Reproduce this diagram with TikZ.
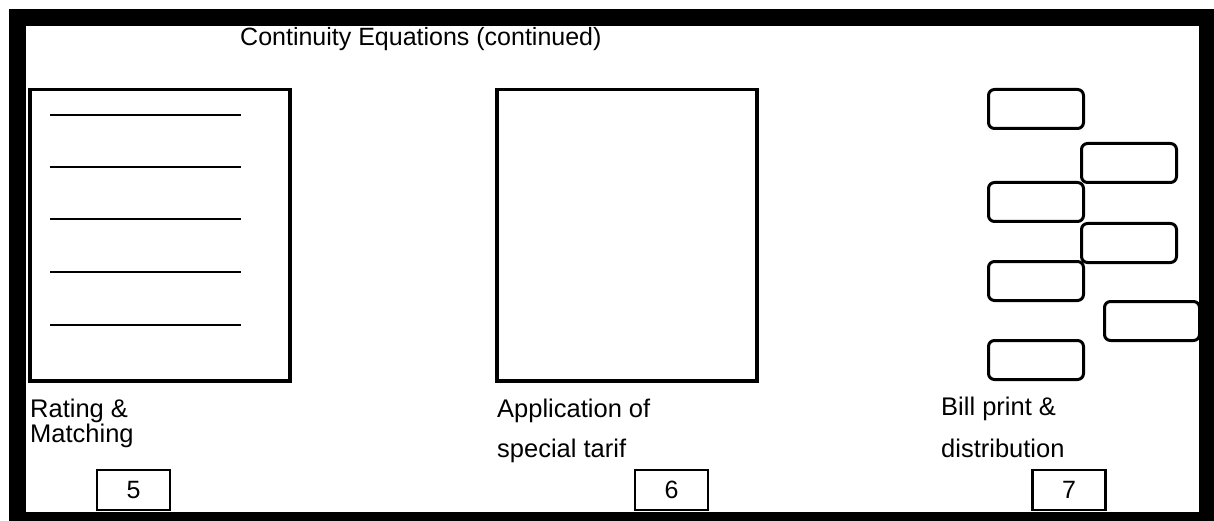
\documentclass[tikz,border=0pt]{standalone}
\usepackage{fontspec}
\setmainfont{Liberation Sans}
\usetikzlibrary{positioning}

\begin{document}
\begin{tikzpicture}[x=1pt, y=-1pt,
    panel/.style={draw, line width=3.5pt, anchor=north west, minimum width=260pt, minimum height=291pt},
    slip/.style={draw, line width=3pt, rounded corners=6pt, anchor=north west, minimum width=95pt, minimum height=39pt},
    tag/.style={draw, line width=2.5pt, minimum width=73pt, minimum height=40pt, inner sep=0pt, font=\fontsize{25}{29}\selectfont},
    caption/.style={anchor=base west, inner sep=0pt, font=\fontsize{25.5}{29}\selectfont}]
  \useasboundingbox (0,0) rectangle (1214,521);
  % thick frame
  \fill (9,9) rectangle (1214,521);
  \fill[white] (26,26) rectangle (1199,512);

  \node[caption, font=\fontsize{25}{29}\selectfont] (title) at (240,46) {Continuity Equations (continued)};

  % the three stages
  \node[panel] (rating) at (28,88) {};
  \foreach \y in {115,167,219,272,325}
    \draw[line width=2.2pt] (50,\y) -- (241,\y);
  \node[panel] (tarif) at (495,88) {};
  \foreach \x/\y [count=\i] in {987/88, 1080/142, 987/181, 1080/222, 987/260, 1103/300, 987/339}
    \node[slip] (bill\i) at (\x,\y) {};

  % captions
  \node[caption] (rating1) at (30,417) {Rating \&};
  \node[caption] (rating2) at (30,442) {Matching};
  \node[caption] (tarif1) at (497,417) {Application of};
  \node[caption] (tarif2) at (497,457) {special tarif};
  \node[caption] (bill1txt) at (941,415) {Bill print \&};
  \node[caption] (bill2txt) at (941,457) {distribution};

  % step numbers
  \node[tag] (n5) at (133.5,490) {5};
  \node[tag] (n6) at (671.5,490) {6};
  \node[tag] (n7) at (1069,490) {7};
\end{tikzpicture}
\end{document}
